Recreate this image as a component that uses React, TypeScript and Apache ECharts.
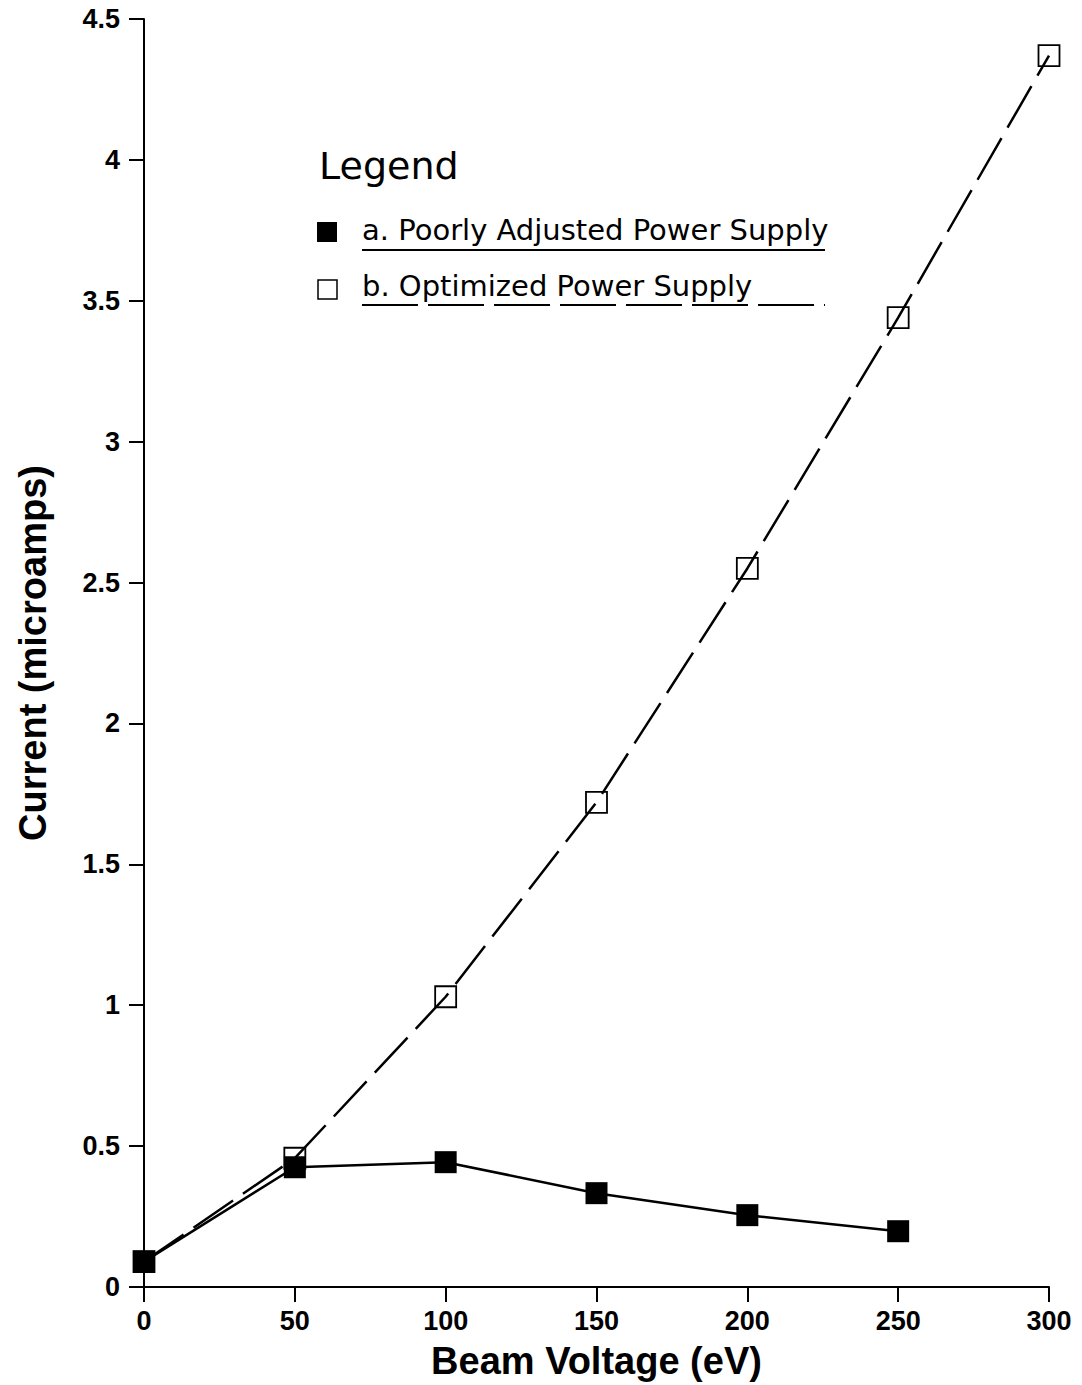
import React, { useEffect, useRef } from "react";
import * as echarts from "echarts";

const voltage = [0, 50, 100, 150, 200, 250, 300];
const poorlyAdjusted = [0.09, 0.425, 0.443, 0.333, 0.255, 0.198];
const optimized = [0.09, 0.457, 1.03, 1.72, 2.55, 3.44, 4.37];
const yTicks = ["0", "0.5", "1", "1.5", "2", "2.5", "3", "3.5", "4", "4.5"];
const legendTitle = "Legend";
const seriesNames = ["a. Poorly Adjusted Power Supply", "b. Optimized Power Supply"];

export default function App() {
  const ref = useRef<HTMLDivElement>(null);
  useEffect(() => {
    if (!ref.current) return;
    const chart = echarts.init(ref.current, null, { renderer: "svg" });
    const axisFont = { fontFamily: "Liberation Sans", fontWeight: "bold" as const, color: "#000" };
    const legendFont = "DejaVu Sans";
    chart.setOption({
      animation: false,
      backgroundColor: "#fff",
      grid: { left: 144, right: 33, top: 19, bottom: 96, containLabel: false },
      xAxis: {
        type: "value",
        min: 0,
        max: 300,
        interval: 50,
        name: "Beam Voltage (eV)",
        nameLocation: "middle",
        nameGap: 55,
        nameTextStyle: { ...axisFont, fontSize: 38 },
        axisLine: { lineStyle: { color: "#000", width: 2 } },
        axisTick: { inside: false, length: 15, lineStyle: { color: "#000", width: 2 } },
        axisLabel: { ...axisFont, fontSize: 27, margin: 20 },
        splitLine: { show: false },
      },
      yAxis: {
        type: "value",
        min: 0,
        max: 4.5,
        interval: 0.5,
        name: "Current (microamps)",
        nameLocation: "middle",
        nameGap: 92,
        nameTextStyle: { ...axisFont, fontSize: 38 },
        axisLine: { show: true, lineStyle: { color: "#000", width: 2 } },
        axisTick: { show: true, length: 15, lineStyle: { color: "#000", width: 2 } },
        axisLabel: {
          ...axisFont,
          fontSize: 27,
          margin: 24,
          formatter: (v: number) => yTicks[Math.round(v * 2)] ?? String(v),
        },
        splitLine: { show: false },
      },
      series: [
        {
          name: seriesNames[1],
          type: "line",
          data: optimized.map((v, i) => [voltage[i], v]),
          symbol: "rect",
          symbolSize: 21,
          lineStyle: { color: "#000", width: 2.5, type: [48, 12] },
          itemStyle: { color: "rgba(0,0,0,0)", borderColor: "#000", borderWidth: 1.8 },
          z: 2,
        },
        {
          name: seriesNames[0],
          type: "line",
          data: poorlyAdjusted.map((v, i) => [voltage[i], v]),
          symbol: "rect",
          symbolSize: 22,
          lineStyle: { color: "#000", width: 2.5 },
          itemStyle: { color: "#000", borderColor: "#000", borderWidth: 0 },
          z: 3,
        },
      ],
      graphic: [
        {
          type: "text",
          left: 319,
          top: 147,
          style: { text: legendTitle, font: `38px "${legendFont}"`, fill: "#000" },
        },
        { type: "rect", shape: { x: 317, y: 222, width: 20, height: 20 }, style: { fill: "#000" } },
        {
          type: "text",
          left: 362,
          top: 215,
          style: { text: seriesNames[0], font: `29px "${legendFont}"`, fill: "#000" },
        },
        {
          type: "line",
          shape: { x1: 362, y1: 250, x2: 825, y2: 250 },
          style: { stroke: "#000", lineWidth: 2 },
        },
        {
          type: "rect",
          shape: { x: 318, y: 280, width: 19, height: 19 },
          style: { fill: "#fff", stroke: "#000", lineWidth: 1.5 },
        },
        {
          type: "text",
          left: 362,
          top: 271,
          style: { text: seriesNames[1], font: `29px "${legendFont}"`, fill: "#000" },
        },
        {
          type: "line",
          shape: { x1: 362, y1: 305, x2: 825, y2: 305 },
          style: { stroke: "#000", lineWidth: 2, lineDash: [56, 10] },
        },
      ],
    });
    return () => chart.dispose();
  }, []);
  return <div ref={ref} style={{ width: 1082, height: 1385, position: "absolute", left: 0, top: 0 }} />;
}
